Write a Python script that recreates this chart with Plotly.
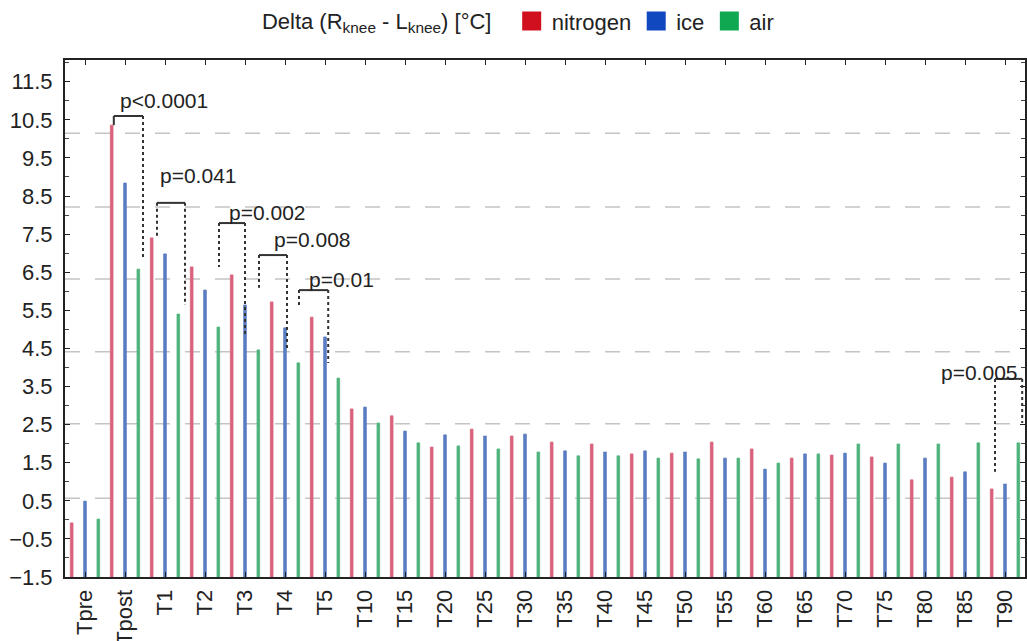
import plotly.graph_objects as go

# time points
timepoints = ["Tpre", "Tpost", "T1", "T2", "T3", "T4", "T5", "T10", "T15", "T20",
              "T25", "T30", "T35", "T40", "T45", "T50", "T55", "T60", "T65", "T70",
              "T75", "T80", "T85", "T90"]

# Delta (R knee - L knee) in degC
nitrogen = [-0.08, 10.36, 7.40, 6.64, 6.43, 5.72, 5.32, 2.91, 2.73, 1.91,
            2.38, 2.20, 2.04, 1.99, 1.73, 1.75, 2.04, 1.86, 1.62, 1.70,
            1.65, 1.05, 1.12, 0.81]
ice = [0.49, 8.84, 6.98, 6.03, 5.64, 5.04, 4.80, 2.96, 2.33, 2.23,
       2.20, 2.25, 1.81, 1.78, 1.81, 1.78, 1.62, 1.33, 1.73, 1.75,
       1.49, 1.62, 1.26, 0.94]
air = [0.02, 6.58, 5.40, 5.06, 4.46, 4.12, 3.72, 2.54, 2.02, 1.94,
       1.86, 1.78, 1.68, 1.68, 1.62, 1.60, 1.62, 1.49, 1.73, 1.99,
       1.99, 1.99, 2.02, 2.02]

series_names = ["nitrogen", "ice", "air"]
bar_colors = ["#d9627c", "#5b7cc0", "#4fb47c"]
legend_colors = ["#d0101e", "#1048c0", "#10a850"]

BASE = -1.5
grid_levels = [0.57, 2.52, 4.41, 6.32, 8.21, 10.15]

# significance brackets (x in category units, y in degC)
p_labels = ["p<0.0001", "p=0.041", "p=0.002", "p=0.008", "p=0.01", "p=0.005"]
p_x0 = [0.72, 1.80, 3.35, 4.35, 5.35, 22.75]
p_x1 = [1.45, 2.50, 4.00, 5.05, 6.08, 23.43]
p_top = [10.60, 8.32, 7.79, 6.95, 6.03, 3.70]
p_left_end = [10.36, 7.42, 6.64, 6.09, 5.56, 1.26]
p_right_end = [6.82, 5.64, 4.80, 4.51, 4.12, 2.54]
p_text_x = [0.83, 1.83, 3.55, 4.68, 5.55, 23.38]
p_text_y = [11.02, 9.05, 8.08, 7.35, 6.32, 3.88]

FONT = "Liberation Sans, Arial, sans-serif"

fig = go.Figure()
for name, vals, col in zip(series_names, [nitrogen, ice, air], bar_colors):
    fig.add_trace(go.Bar(
        x=timepoints,
        y=[v - BASE for v in vals],
        base=BASE,
        name=name,
        marker={"color": col, "line": {"color": col, "width": 0.8}},
        showlegend=False,
    ))

# legend entries with big square swatches
for name, col in zip(series_names, legend_colors):
    fig.add_trace(go.Scatter(
        x=[None], y=[None], mode="markers", name=name,
        marker={"symbol": "square", "size": 18, "color": col,
                "line": {"color": col, "width": 3}},
    ))

shapes = []
for lv in grid_levels:
    shapes.append(dict(type="line", xref="paper", x0=0, x1=1, yref="y", y0=lv, y1=lv,
                       line={"color": "#c4c4c4", "width": 1.5, "dash": "longdash"},
                       layer="below"))

annotations = []
for i, lab in enumerate(p_labels):
    shapes.append(dict(type="line", x0=p_x0[i], x1=p_x1[i], y0=p_top[i], y1=p_top[i],
                       line={"color": "#333333", "width": 2}))
    shapes.append(dict(type="line", x0=p_x0[i], x1=p_x0[i], y0=p_top[i], y1=p_left_end[i],
                       line={"color": "#333333", "width": 2,
                             "dash": "solid" if i == 0 else "dot"}))
    shapes.append(dict(type="line", x0=p_x1[i], x1=p_x1[i], y0=p_top[i], y1=p_right_end[i],
                       line={"color": "#333333", "width": 2, "dash": "dot"}))
    annotations.append(dict(x=p_text_x[i], y=p_text_y[i], text=lab, showarrow=False,
                            xanchor="right" if i == len(p_labels) - 1 else "left",
                            yanchor="middle", font={"size": 21, "color": "#222222"}))

fig.update_layout(
    width=1027,
    height=641,
    template="plotly_white",
    plot_bgcolor="white",
    paper_bgcolor="white",
    font={"family": FONT, "color": "#222222"},
    margin={"l": 65, "r": 2, "t": 60, "b": 64, "autoexpand": False},
    barmode="group",
    bargap=0,
    bargroupgap=0.8,
    shapes=shapes,
    annotations=annotations,
    legend={
        "orientation": "h",
        "x": 0.203,
        "xanchor": "left",
        "y": 1.075,
        "yanchor": "middle",
        "font": {"size": 22},
        "title": {"text": "Delta (R<sub>knee</sub> - L<sub>knee</sub>) [°C]  ",
                  "side": "left", "font": {"size": 22}},
        "itemwidth": 30,
        "bgcolor": "rgba(0,0,0,0)",
    },
)
fig.update_xaxes(
    type="category",
    range=[-0.5, len(timepoints) - 0.5],
    automargin=False,
    tickangle=-90,
    tickfont={"size": 22},
    ticklabelstandoff=2,
    showgrid=False,
    showline=True,
    linecolor="#222222",
    linewidth=2,
    mirror="ticks",
    ticks="inside",
    ticklen=5,
    tickcolor="#222222",
    zeroline=False,
)
fig.update_yaxes(
    range=[-1.5, 12.07],
    automargin=False,
    tick0=-1.5,
    dtick=1,
    tickfont={"size": 22},
    ticklabelstandoff=6,
    showgrid=False,
    zeroline=False,
    showline=True,
    linecolor="#222222",
    linewidth=2,
    mirror="ticks",
    ticks="inside",
    ticklen=5,
    tickcolor="#222222",
    minor={"dtick": 0.5, "ticks": "inside", "ticklen": 4, "tickcolor": "#444444"},
)

# page has a default body margin; remove it so the figure sits at the window origin
fig.write_html("out.html", config={"displayModeBar": False},
               post_script="document.body.style.margin='0';")
